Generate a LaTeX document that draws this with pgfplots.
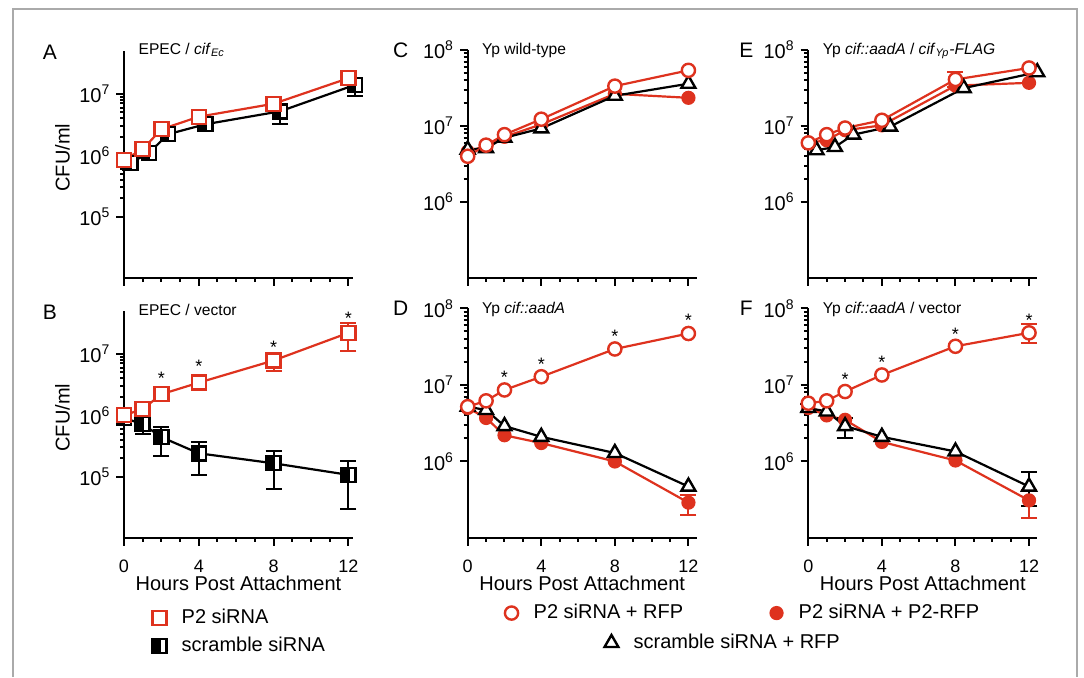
\documentclass[border=0pt]{standalone}
\usepackage{fontspec}
\setmainfont{Liberation Sans}
\usepackage{pgfplots}
\pgfplotsset{compat=1.18}
\definecolor{myred}{RGB}{222,50,30}
\definecolor{framegray}{RGB}{170,170,170}

\pgfdeclareplotmark{halfsq}{%
  \pgfpathrectangle{\pgfpoint{-\pgfplotmarksize}{-\pgfplotmarksize}}{\pgfpoint{2\pgfplotmarksize}{2\pgfplotmarksize}}%
  \pgfusepathqfillstroke
  \begin{pgfscope}%
  \pgfsetfillcolor{black}%
  \pgfpathrectangle{\pgfpoint{-\pgfplotmarksize}{-\pgfplotmarksize}}{\pgfpoint{\pgfplotmarksize}{2\pgfplotmarksize}}%
  \pgfusepathqfillstroke
  \end{pgfscope}%
}
\newcommand{\tp}[1]{10\raisebox{4pt}{\fontsize{7}{7}\selectfont #1}}

\pgfplotsset{
  every axis/.append style={
    scale only axis, width=114.5pt,
    axis line style={draw=none},
    tick pos=left,
    xmin=0,
    xtick={0,4,8,12}, minor xtick={1,2,3,5,6,7,9,10,11},
    tick align=outside,
    major tick length=3.8pt, minor tick length=2pt,
    tick style={black, line width=1pt},
    xticklabel style={font=\fontsize{9}{10}\selectfont, yshift=-3.8pt},
    yticklabel style={font=\fontsize{10}{11}\selectfont},
    clip=false,
    legend cell align=left,
  },
  every axis legend/.append style={draw=none, fill=none, inner sep=0pt, font=\fontsize{10}{12}\selectfont, anchor=west},
  legend image code/.code={\path (0cm,-0.1cm) (0.45cm,0.1cm); \draw[#1] plot coordinates {(0.15cm,0cm)};},
}
\newcommand{\axlines}{\draw[black, line width=1pt] (rel axis cs:0,1) -- (rel axis cs:0,0) -- (rel axis cs:1,0);}
\tikzset{
  sP2/.style={myred, line width=1.1pt, mark=square*, mark size=3.5pt, mark options={fill=white, line width=1.2pt, solid}},
  sScr/.style={black, line width=1.1pt, mark=halfsq, mark size=3.5pt, mark options={fill=white, line width=1.2pt, solid}},
  sRFP/.style={myred, line width=1.1pt, mark=*, mark size=3.3pt, mark options={fill=white, line width=1.2pt, solid}},
  sPRFP/.style={myred, line width=1.1pt, mark=*, mark size=3pt, mark options={fill=myred, solid}},
  sTri/.style={black, line width=1.1pt, mark=triangle*, mark size=4pt, mark options={fill=white, line width=1.2pt, solid}},
  plet/.style={font=\fontsize{10.5}{12}\selectfont},
  ptitle/.style={font=\fontsize{7.8}{9}\selectfont, anchor=west},
  astk/.style={font=\fontsize{9}{10}\selectfont, anchor=base, yshift=-5pt},
}
\pgfplotsset{
  errblack/.style={only marks, mark=none, forget plot, black,
    error bars/.cd, y dir=both, y explicit,
    error bar style={line width=1pt, black, solid},
    error mark options={rotate=90, mark size=4pt, line width=1pt, black}},
  errred/.style={only marks, mark=none, forget plot, myred,
    error bars/.cd, y dir=both, y explicit,
    error bar style={line width=1pt, myred, solid},
    error mark options={rotate=90, mark size=4pt, line width=1pt, myred}},
}

\begin{document}
\begin{tikzpicture}
\path[use as bounding box] (0,0) rectangle (542pt,338.5pt);
\draw[framegray, line width=0.75pt] (6.5pt,0) -- (6.5pt,334pt) -- (538.5pt,334pt) -- (538.5pt,0);

% ---------------- A ----------------
\begin{axis}[ymode=log, xmax=12.25, ymin=1e4, ymax=5e7, height=113.5pt,
  ytick={1e5,1e6,1e7}, yticklabels={\tp{5},\tp{6},\tp{7}},
  xticklabels={}, at={(62pt,199.5pt)}, anchor=south west,
  legend style={at={(0.1115,-1.6217)}}]
\axlines
\addplot[errblack] table[x=x, y=y, y error plus=ep, y error minus=em] {
x y ep em
8.35 5.2e6 1.5e6 2.0e6
12.35 1.4e7 4.5e6 4.6e6
};
\addplot[sScr, forget plot] coordinates {(0.35,7.5e5) (1.35,1.1e6) (2.35,2.2e6) (4.35,3.2e6) (8.35,5.2e6) (12.35,1.4e7)};
\addplot[sP2, forget plot] coordinates {(0,8.4e5) (1,1.26e6) (2,2.65e6) (4,4.25e6) (8,6.9e6) (12,1.8e7)};
\addlegendimage{sScr}
\addlegendentry{scramble siRNA}
\node[plet] at (rel axis cs:0,1) [xshift=-37pt, yshift=-0.65pt] {A};
\node[ptitle] at (rel axis cs:0,1) [xshift=3.8pt, yshift=0.8pt] {EPEC / \textit{cif}\textsubscript{\textit{Ec}}};
\node[xshift=-30.75pt, rotate=90, font=\fontsize{10}{12}\selectfont] at (rel axis cs:0,0.53) {CFU/ml};
\end{axis}

% ---------------- B ----------------
\begin{axis}[ymode=log, xmax=12.25, ymin=1e4, ymax=5e7, height=113.5pt,
  ytick={1e5,1e6,1e7}, yticklabels={\tp{5},\tp{6},\tp{7}},
  xticklabels={0,4,8,12}, at={(62pt,69.5pt)}, anchor=south west,
  legend style={at={(0.1115,-0.352)}}]
\axlines
\addplot[errblack] table[x=x, y=y, y error plus=ep, y error minus=em] {
x y ep em
1 7.2e5 2.8e5 2.2e5
2 4.4e5 2.1e5 2.2e5
4 2.4e5 1.2e5 1.33e5
8 1.65e5 0.95e5 1.03e5
12 1.07e5 0.73e5 0.77e5
};
\addplot[sScr, forget plot] coordinates {(0,9e5) (1,7.2e5) (2,4.4e5) (4,2.4e5) (8,1.65e5) (12,1.07e5)};
\addplot[errred] table[x=x, y=y, y error plus=ep, y error minus=em] {
x y ep em
8 7.8e6 2.0e6 2.5e6
12 2.2e7 1.0e7 1.07e7
};
\addplot[sP2, forget plot] coordinates {(0,1.0e6) (1,1.26e6) (2,2.2e6) (4,3.4e6) (8,7.8e6) (12,2.2e7)};
\addlegendimage{sP2}
\addlegendentry{P2 siRNA}
\node[astk] at (axis cs:2,4.7e6) {*};
\node[astk] at (axis cs:4,7.2e6) {*};
\node[astk] at (axis cs:8,1.5e7) {*};
\node[astk] at (axis cs:12,4.4e7) {*};
\node[plet] at (rel axis cs:0,1) [xshift=-37pt, yshift=-0.4pt] {B};
\node[ptitle] at (rel axis cs:0,1) [xshift=3.8pt, yshift=0.35pt] {EPEC / vector};
\node[xshift=-30.75pt, rotate=90, font=\fontsize{10}{12}\selectfont] at (rel axis cs:0,0.53) {CFU/ml};
\node[font=\fontsize{10}{12}\selectfont] at (rel axis cs:0.5,0) [yshift=-22.5pt] {Hours Post Attachment};
\end{axis}

% ---------------- C ----------------
\begin{axis}[ymode=log, xmax=12.45, ymin=1e5, ymax=1e8, height=114pt,
  ytick={1e6,1e7,1e8}, yticklabels={\tp{6},\tp{7},\tp{8}},
  xticklabels={}, at={(233.85pt,199.5pt)}, anchor=south west,
  legend style={at={(0.584,-1.601)}}]
\axlines
\addplot[sPRFP, forget plot] coordinates {(0,4.6e6) (1,5.5e6) (2,7.2e6) (4,1.05e7) (8,2.65e7) (12,2.35e7)};
\addplot[sTri, forget plot] coordinates {(0,4.9e6) (1,5.1e6) (2,7.0e6) (4,9.3e6) (8,2.5e7) (12,3.6e7)};
\addplot[sRFP, forget plot] coordinates {(0,4.0e6) (1,5.6e6) (2,7.7e6) (4,1.23e7) (8,3.35e7) (12,5.4e7)};
\addlegendimage{sTri}
\addlegendentry{scramble siRNA + RFP}
\node[plet] at (rel axis cs:0,1) [xshift=-33.5pt] {C};
\node[ptitle] at (rel axis cs:0,1) [xshift=3.7pt, yshift=-0.3pt] {Yp wild-type};
\end{axis}

% ---------------- D ----------------
\begin{axis}[ymode=log, xmax=12.45, ymin=1e5, ymax=1e8, height=114.8pt,
  ytick={1e6,1e7,1e8}, yticklabels={\tp{6},\tp{7},\tp{8}},
  xticklabels={0,4,8,12}, at={(233.85pt,69.5pt)}, anchor=south west,
  legend style={at={(0.1476,-0.327)}}]
\axlines
\addplot[errred] table[x=x, y=y, y error plus=ep, y error minus=em] {
x y ep em
12 2.9e5 0.8e5 0.9e5
};
\addplot[sPRFP, forget plot] coordinates {(0,5.0e6) (1,3.7e6) (2,2.2e6) (4,1.74e6) (8,1.0e6) (12,2.9e5)};
\addplot[sTri, forget plot] coordinates {(0,5.2e6) (1,4.7e6) (2,2.9e6) (4,2.1e6) (8,1.29e6) (12,4.7e5)};
\addplot[sRFP, forget plot] coordinates {(0,5.2e6) (1,6.2e6) (2,8.6e6) (4,1.28e7) (8,2.95e7) (12,4.7e7)};
\addlegendimage{sRFP}
\addlegendentry{P2 siRNA + RFP}
\node[astk] at (axis cs:2,1.42e7) {*};
\node[astk] at (axis cs:4,2.1e7) {*};
\node[astk] at (axis cs:8,4.8e7) {*};
\node[astk] at (axis cs:12,7.9e7) {*};
\node[plet] at (rel axis cs:0,1) [xshift=-33.5pt] {D};
\node[ptitle] at (rel axis cs:0,1) [xshift=3.7pt, yshift=-0.3pt] {Yp \textit{cif::aadA}};
\node[font=\fontsize{10}{12}\selectfont] at (rel axis cs:0.5,0) [yshift=-22.5pt] {Hours Post Attachment};
\end{axis}

% ---------------- E ----------------
\begin{axis}[ymode=log, xmax=12.45, ymin=1e5, ymax=1e8, height=114pt,
  ytick={1e6,1e7,1e8}, yticklabels={\tp{6},\tp{7},\tp{8}},
  xticklabels={}, at={(404.15pt,199.5pt)}, anchor=south west]
\axlines
\addplot[errred] table[x=x, y=y, y error plus=ep, y error minus=em] {
x y ep em
8 4.1e7 1.0e7 0.8e7
};
\addplot[sPRFP, forget plot] coordinates {(0,6.0e6) (1,6.5e6) (2,8.8e6) (4,1.02e7) (8,3.4e7) (12,3.7e7)};
\addplot[sTri, forget plot] coordinates {(0.45,4.8e6) (1.45,5.3e6) (2.45,7.7e6) (4.45,9.8e6) (8.45,3.15e7) (12.45,5.1e7)};
\addplot[sRFP, forget plot] coordinates {(0,6.0e6) (1,7.7e6) (2,9.4e6) (4,1.19e7) (8,4.1e7) (12,5.8e7)};
\node[plet] at (rel axis cs:0,1) [xshift=-31pt] {E};
\node[ptitle] at (rel axis cs:0,1) [xshift=3.7pt, yshift=-0.3pt] {Yp \textit{cif::aadA} / \textit{cif}\textsubscript{\textit{Yp}}\textit{-FLAG}};
\end{axis}

% ---------------- F ----------------
\begin{axis}[ymode=log, xmax=12.45, ymin=1e5, ymax=1e8, height=114.8pt,
  ytick={1e6,1e7,1e8}, yticklabels={\tp{6},\tp{7},\tp{8}},
  xticklabels={0,4,8,12}, at={(404.15pt,69.5pt)}, anchor=south west,
  legend style={at={(-0.1825,-0.327)}}]
\axlines
\addplot[errred] table[x=x, y=y, y error plus=ep, y error minus=em] {
x y ep em
12 3.1e5 1.2e5 1.3e5
};
\addplot[sPRFP, forget plot] coordinates {(0,5.0e6) (1,4.0e6) (2,3.5e6) (4,1.8e6) (8,1.03e6) (12,3.1e5)};
\addplot[errblack] table[x=x, y=y, y error plus=ep, y error minus=em] {
x y ep em
0 5.0e6 0.6e6 0.6e6
2 2.9e6 0.8e6 0.9e6
12 4.7e5 2.5e5 2.1e5
};
\addplot[sTri, forget plot] coordinates {(0,5.0e6) (1,4.5e6) (2,2.9e6) (4,2.1e6) (8,1.35e6) (12,4.7e5)};
\addplot[errred] table[x=x, y=y, y error plus=ep, y error minus=em] {
x y ep em
12 4.8e7 1.4e7 1.3e7
};
\addplot[sRFP, forget plot] coordinates {(0,5.77e6) (1,6.2e6) (2,8.2e6) (4,1.35e7) (8,3.2e7) (12,4.8e7)};
\addlegendimage{sPRFP}
\addlegendentry{P2 siRNA + P2-RFP}
\node[astk] at (axis cs:2,1.31e7) {*};
\node[astk] at (axis cs:4,2.23e7) {*};
\node[astk] at (axis cs:8,5.1e7) {*};
\node[astk] at (axis cs:12,7.9e7) {*};
\node[plet] at (rel axis cs:0,1) [xshift=-31pt] {F};
\node[ptitle] at (rel axis cs:0,1) [xshift=3.7pt, yshift=-0.3pt] {Yp \textit{cif::aadA} / vector};
\node[font=\fontsize{10}{12}\selectfont] at (rel axis cs:0.5,0) [yshift=-22.5pt] {Hours Post Attachment};
\end{axis}
\end{tikzpicture}
\end{document}
